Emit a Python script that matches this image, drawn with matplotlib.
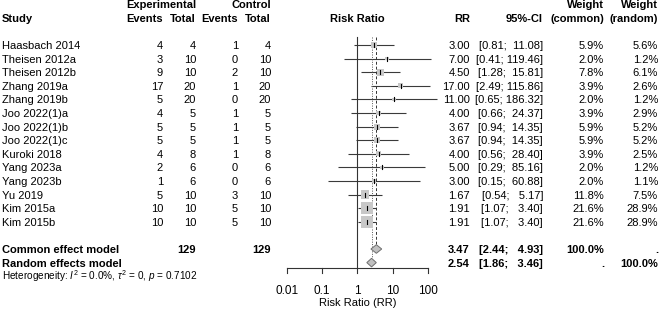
import numpy as np
import matplotlib.pyplot as plt

plt.rcParams['font.family'] = 'Liberation Sans'
plt.rcParams['mathtext.fontset'] = 'custom'
plt.rcParams['mathtext.rm'] = 'Liberation Sans'
plt.rcParams['mathtext.it'] = 'Liberation Sans:italic'

# data
studies = ['Haasbach 2014', 'Theisen 2012a', 'Theisen 2012b', 'Zhang 2019a', 'Zhang 2019b',
           'Joo 2022(1)a', 'Joo 2022(1)b', 'Joo 2022(1)c', 'Kuroki 2018', 'Yang 2023a',
           'Yang 2023b', 'Yu 2019', 'Kim 2015a', 'Kim 2015b']
exp_events = [4, 3, 9, 17, 5, 4, 5, 5, 4, 2, 1, 5, 10, 10]
exp_total = [4, 10, 10, 20, 20, 5, 5, 5, 8, 6, 6, 10, 10, 10]
ctrl_events = [1, 0, 2, 1, 0, 1, 1, 1, 1, 0, 0, 3, 5, 5]
ctrl_total = [4, 10, 10, 20, 20, 5, 5, 5, 8, 6, 6, 10, 10, 10]
rr = [3.00, 7.00, 4.50, 17.00, 11.00, 4.00, 3.67, 3.67, 4.00, 5.00, 3.00, 1.67, 1.91, 1.91]
ci_lo = [0.81, 0.41, 1.28, 2.49, 0.65, 0.66, 0.94, 0.94, 0.56, 0.29, 0.15, 0.54, 1.07, 1.07]
ci_hi = [11.08, 119.46, 15.81, 115.86, 186.32, 24.37, 14.35, 14.35, 28.40, 85.16, 60.88, 5.17, 3.40, 3.40]
w_common = [5.9, 2.0, 7.8, 3.9, 2.0, 3.9, 5.9, 5.9, 3.9, 2.0, 2.0, 11.8, 21.6, 21.6]
w_random = [5.6, 1.2, 6.1, 2.6, 1.2, 2.9, 5.2, 5.2, 2.5, 1.2, 1.1, 7.5, 28.9, 28.9]
common = [3.47, 2.44, 4.93]
random_ = [2.54, 1.86, 3.46]
total_exp = 129
total_ctrl = 129
xticks = [0.01, 0.1, 1, 10, 100]
xtick_labels = ['0.01', '0.1', '1', '10', '100']

# layout: x in pixels, y in row units (row 0 = first study)
W, H = 661, 311
ROW_PX = 13.6
ROW0_PX = 45.0
X_ONE = 357.3      # pixel of RR = 1
DEC = 35.25        # pixels per decade
y_top = -ROW0_PX / ROW_PX
y_bot = (H - ROW0_PX) / ROW_PX
BL = 4.0 / ROW_PX  # baseline offset from row centre
FS = 8

fig = plt.figure(figsize=(W / 100, H / 100), dpi=100)
ax = fig.add_axes([0, 0, 1, 1])
ax.set_xlim(0, W)
ax.set_ylim(y_bot, y_top)
ax.axis('off')

fx = fig.add_axes([0, 0, 1, 1])
fx.set_xscale('log')
fx.set_xlim(10 ** ((0 - X_ONE) / DEC), 10 ** ((W - X_ONE) / DEC))
fx.set_ylim(y_bot, y_top)
fx.axis('off')
fx.patch.set_alpha(0)


def txt(x, r, s, ha='right', bold=False, size=FS):
    ax.text(x, r + BL, s, ha=ha, va='baseline', fontsize=size,
            fontweight='bold' if bold else 'normal')


# headers
txt(196, -3, 'Experimental', bold=True)
txt(271, -3, 'Control', bold=True)
txt(2, -2, 'Study', ha='left', bold=True)
txt(163, -2, 'Events', bold=True)
txt(196, -2, 'Total', bold=True)
txt(238, -2, 'Events', bold=True)
txt(271, -2, 'Total', bold=True)
txt(X_ONE, -2, 'Risk Ratio', ha='center', bold=True)
txt(470, -2, 'RR', bold=True)
txt(543, -2, '95%-CI', bold=True)
txt(604, -3, 'Weight', bold=True)
txt(604, -2, '(common)', bold=True)
txt(658, -3, 'Weight', bold=True)
txt(658, -2, '(random)', bold=True)

# study rows
for i, name in enumerate(studies):
    txt(2, i, name, ha='left')
    txt(163, i, str(exp_events[i]))
    txt(196, i, str(exp_total[i]))
    txt(238, i, str(ctrl_events[i]))
    txt(271, i, str(ctrl_total[i]))
    txt(470, i, '%.2f' % rr[i])
    txt(543, i, '[%.2f; %6.2f]' % (ci_lo[i], ci_hi[i]))
    txt(604, i, '%.1f%%' % w_common[i])
    txt(658, i, '%.1f%%' % w_random[i])

    fx.plot([ci_lo[i], ci_hi[i]], [i, i], color='#3a3a3a', lw=0.8, solid_capstyle='butt')
    side = 11.5 * np.sqrt(w_common[i] / max(w_common))
    hw = side / 2 / DEC
    hh = side / 2 / ROW_PX
    fx.fill([rr[i] * 10 ** -hw, rr[i] * 10 ** hw, rr[i] * 10 ** hw, rr[i] * 10 ** -hw],
            [i - hh, i - hh, i + hh, i + hh], color='#c8c8c8', lw=0, zorder=3)
    fx.plot([rr[i], rr[i]], [i - 0.15, i + 0.15], color='black', lw=0.8, zorder=4)

# summary rows
r_c, r_r = 15, 16
txt(2, r_c, 'Common effect model', ha='left', bold=True)
txt(196, r_c, str(total_exp), bold=True)
txt(271, r_c, str(total_ctrl), bold=True)
txt(470, r_c, '%.2f' % common[0], bold=True)
txt(543, r_c, '[%.2f; %6.2f]' % (common[1], common[2]), bold=True)
txt(604, r_c, '100.0%', bold=True)
txt(658, r_c, '.', bold=True)

txt(2, r_r, 'Random effects model', ha='left', bold=True)
txt(470, r_r, '%.2f' % random_[0], bold=True)
txt(543, r_r, '[%.2f; %6.2f]' % (random_[1], random_[2]), bold=True)
txt(604, r_r, '.', bold=True)
txt(658, r_r, '100.0%', bold=True)

ax.text(2, 17 + BL * 0.9, r'Heterogeneity: $I^2$ = 0.0%, $\tau^2$ = 0, $p$ = 0.7102',
        ha='left', va='baseline', fontsize=7.2)

dh = 4.3 / ROW_PX
for r, (est, lo, hi) in [(r_c, common), (r_r, random_)]:
    fx.fill([lo, est, hi, est], [r, r - dh, r, r + dh], facecolor='#c0c0c0',
            edgecolor='#6e6e6e', lw=0.7, zorder=3)

# reference lines
top = -0.59
axis_r = (268.3 - ROW0_PX) / ROW_PX
fx.plot([1, 1], [top, axis_r], color='#333333', lw=0.8)
fx.plot([common[0], common[0]], [top, r_c - dh], color='#333333', lw=0.7, ls=(0, (3, 2)))
fx.plot([random_[0], random_[0]], [top, r_r - dh], color='#555555', lw=0.7, ls=(0, (1, 1.5)))

# x axis
fx.plot([xticks[0], xticks[-1]], [axis_r, axis_r], color='#333333', lw=0.8)
tick_end = axis_r + 5 / ROW_PX
for t, lab in zip(xticks, xtick_labels):
    fx.plot([t, t], [axis_r, tick_end], color='#333333', lw=0.8)
    fx.text(t, (290 - ROW0_PX) / ROW_PX + BL, lab, ha='center', va='baseline', fontsize=8.5)
fx.text(1, (301.7 - ROW0_PX) / ROW_PX + BL, 'Risk Ratio (RR)', ha='center', va='baseline', fontsize=FS)

fig.savefig('out.png', dpi=100)
